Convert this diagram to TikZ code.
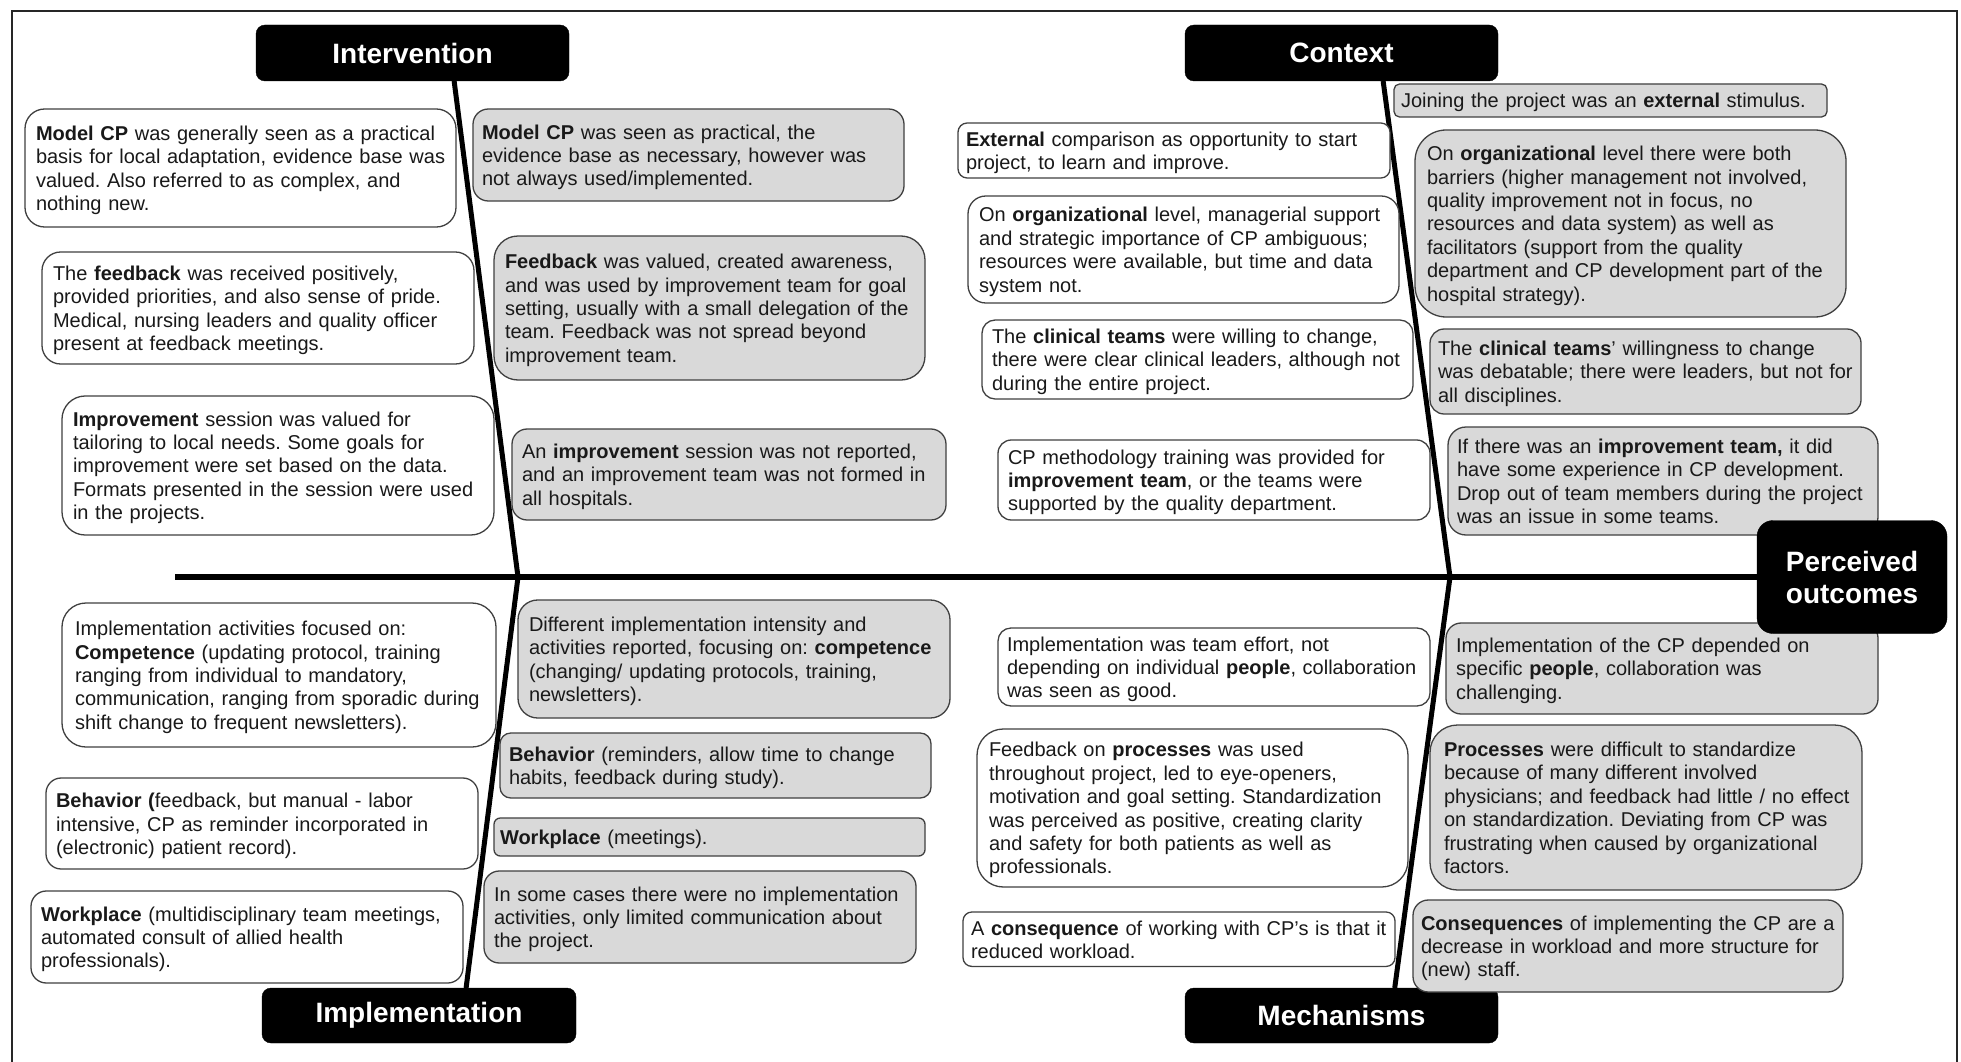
\documentclass[tikz,border=0pt]{standalone}
\usepackage{fontspec}
\setmainfont{Liberation Sans}
\usetikzlibrary{calc}
\definecolor{boxgrey}{RGB}{217,217,217}
\pgfdeclarelayer{bg}
\pgfsetlayers{bg,main}
\newcommand\cpnode[8]{%
  \pgfmathsetmacro\cprad{#6/6}%
  \node[#1, anchor=north west, minimum width=#5pt, minimum height=#6pt,
        inner xsep=0pt, text width=#5pt, rounded corners=\cprad pt] (#2) at (#3,#4)
        {\frenchspacing\hspace*{#7pt}\begin{tabular}{@{}l@{}}\rule{0pt}{22pt}#8\end{tabular}};%
}
\tikzset{
  basebox/.style={draw=black!75, line width=1.3pt, outer sep=0pt,
    inner ysep=1pt, text=black!90, font={\fontsize{20}{23.4}\selectfont}},
  wbox/.style={basebox, fill=white},
  gbox/.style={basebox, fill=boxgrey},
  ttl/.style={fill=black, draw=black, rounded corners=9pt, text=white,
    font={\fontsize{28}{32}\selectfont\bfseries}, align=center, outer sep=0pt, inner sep=0pt},
  bone/.style={line width=5pt, black},
  spine/.style={line width=6.5pt, black}
}
\begin{document}
\begin{tikzpicture}[x=1pt,y=-1pt]
\useasboundingbox (0,0) rectangle (1961,1062);
\clip (0,0) rectangle (1961,1062);

% title boxes
\node[ttl, minimum width=313pt, minimum height=56pt] (intv) at (412.5,53) {Intervention};
\node[ttl, minimum width=313pt, minimum height=56pt] (ctx) at (1341.5,53) {Context};
\node[ttl, minimum width=314pt, minimum height=55pt] (impl) at (419,1015.5) {Implementation};
\node[ttl, minimum width=313pt, minimum height=55pt] (mech) at (1341.5,1015.5) {Mechanisms};

% Intervention
\cpnode{wbox}{i1}{25}{109}{431}{118}{11}{\textbf{Model CP} was generally seen as a practical\\basis for local adaptation, evidence base was\\valued. Also referred to as complex, and\\nothing new.}
\cpnode{wbox}{i2}{42}{252}{432}{112}{11}{The \textbf{feedback} was received positively,\\provided priorities, and also sense of pride.\\Medical, nursing leaders and quality officer\\present at feedback meetings.}
\cpnode{wbox}{i3}{62}{396}{432}{139}{11}{\textbf{Improvement} session was valued for\\tailoring to local needs. Some goals for\\improvement were set based on the data.\\Formats presented in the session were used\\in the projects.}
\cpnode{gbox}{i4}{473}{109}{431}{92}{9}{\textbf{Model CP} was seen as practical, the\\evidence base as necessary, however was\\not always used/implemented.}
\cpnode{gbox}{i5}{494}{236}{431}{144}{11}{\textbf{Feedback} was valued, created awareness,\\and was used by improvement team for goal\\setting, usually with a small delegation of the\\team. Feedback was not spread beyond\\improvement team.}
\cpnode{gbox}{i6}{512}{429}{434}{91}{10}{An \textbf{improvement} session was not reported,\\and an improvement team was not formed in\\all hospitals.}

% Context
\cpnode{gbox}{c1}{1394}{84}{433}{33}{7}{Joining the project was an \textbf{external} stimulus.}
\cpnode{wbox}{c2}{958}{123}{432}{55}{8}{\textbf{External} comparison as opportunity to start\\project, to learn and improve.}
\cpnode{wbox}{c3}{968}{196}{431}{107}{11}{On \textbf{organizational} level, managerial support\\and strategic importance of CP ambiguous;\\resources were available, but time and data\\system not.}
\cpnode{wbox}{c4}{982}{320}{431}{79}{10}{The \textbf{clinical teams} were willing to change,\\there were clear clinical leaders, although not\\during the entire project.}
\cpnode{wbox}{c5}{998}{440}{432}{80}{10}{CP methodology training was provided for\\\textbf{improvement team}, or the teams were\\supported by the quality department.}
\cpnode{gbox}{c6}{1415}{130}{431}{187}{12}{On \textbf{organizational} level there were both\\barriers (higher management not involved,\\quality improvement not in focus, no\\resources and data system) as well as\\facilitators (support from the quality\\department and CP development part of the\\hospital strategy).}
\cpnode{gbox}{c7}{1430}{329}{431}{85}{8}{The \textbf{clinical teams}’ willingness to change\\was debatable; there were leaders, but not for\\all disciplines.}
\cpnode{gbox}{c8}{1448}{427}{430}{108}{9}{If there was an \textbf{improvement team,} it did\\have some experience in CP development.\\Drop out of team members during the project\\was an issue in some teams.}

% Implementation
\cpnode{wbox}{m1}{62}{603}{434}{144}{13}{Implementation activities focused on:\\\textbf{Competence} (updating protocol, training\\ranging from individual to mandatory,\\communication, ranging from sporadic during\\shift change to frequent newsletters).}
\cpnode{wbox}{m2}{46}{778}{432}{91}{10}{\textbf{Behavior (}feedback, but manual - labor\\intensive, CP as reminder incorporated in\\(electronic) patient record).}
\cpnode{wbox}{m3}{31}{891}{432}{92}{10}{\textbf{Workplace} (multidisciplinary team meetings,\\automated consult of allied health\\professionals).}
\cpnode{gbox}{m4}{518}{600}{432}{118}{11}{Different implementation intensity and\\activities reported, focusing on: \textbf{competence}\\(changing/ updating protocols, training,\\newsletters).}
\cpnode{gbox}{m5}{500}{733}{431}{65}{9}{\textbf{Behavior} (reminders, allow time to change\\habits, feedback during study).}
\cpnode{gbox}{m6}{494}{818}{431}{38}{6}{\textbf{Workplace} (meetings).}
\cpnode{gbox}{m7}{484}{871}{432}{92}{10}{In some cases there were no implementation\\activities, only limited communication about\\the project.}

% Mechanisms
\cpnode{wbox}{k1}{998}{628}{432}{78}{9}{Implementation was team effort, not\\depending on individual \textbf{people}, collaboration\\was seen as good.}
\cpnode{wbox}{k2}{977}{729}{431}{158}{12}{Feedback on \textbf{processes} was used\\throughout project, led to eye-openers,\\motivation and goal setting. Standardization\\was perceived as positive, creating clarity\\and safety for both patients as well as\\professionals.}
\cpnode{wbox}{k3}{963}{912}{432}{53}{8}{A \textbf{consequence} of working with CP’s is that it\\reduced workload.}
\cpnode{gbox}{k4}{1446}{623}{432}{91}{10}{Implementation of the CP depended on\\specific \textbf{people}, collaboration was\\challenging.}
\cpnode{gbox}{k5}{1430}{725}{432}{165}{14}{\textbf{Processes} were difficult to standardize\\because of many different involved\\physicians; and feedback had little / no effect\\on standardization. Deviating from CP was\\frustrating when caused by organizational\\factors.}
\cpnode{gbox}{k6}{1413}{900}{430}{92}{8}{\textbf{Consequences} of implementing the CP are a\\decrease in workload and more structure for\\(new) staff.}

% effect head
\node[ttl, rounded corners=16pt, minimum width=190pt, minimum height=113pt] (perc) at (1852,577) {Perceived\\outcomes};

% spine and bones
\coordinate (spL) at (175,577);
\coordinate (j1) at (518,577);
\coordinate (j2) at (1450,577);
\begin{pgfonlayer}{bg}
\fill[white] (0,0) rectangle (1961,1062);
\draw[line width=1.6pt, black!85] (12,11) rectangle (1957,1090);
\draw[spine] (spL) -- (perc.west);
\draw[bone] ($(intv.south west)!0.633!(intv.south east)$) -- (j1);
\draw[bone] (j1) -- ($(impl.north west)!0.65!(impl.north east)$);
\draw[bone] ($(ctx.south west)!0.633!(ctx.south east)$) -- (j2);
\draw[bone] (j2) -- ($(mech.north west)!0.67!(mech.north east)$);
\end{pgfonlayer}
\end{tikzpicture}
\end{document}
